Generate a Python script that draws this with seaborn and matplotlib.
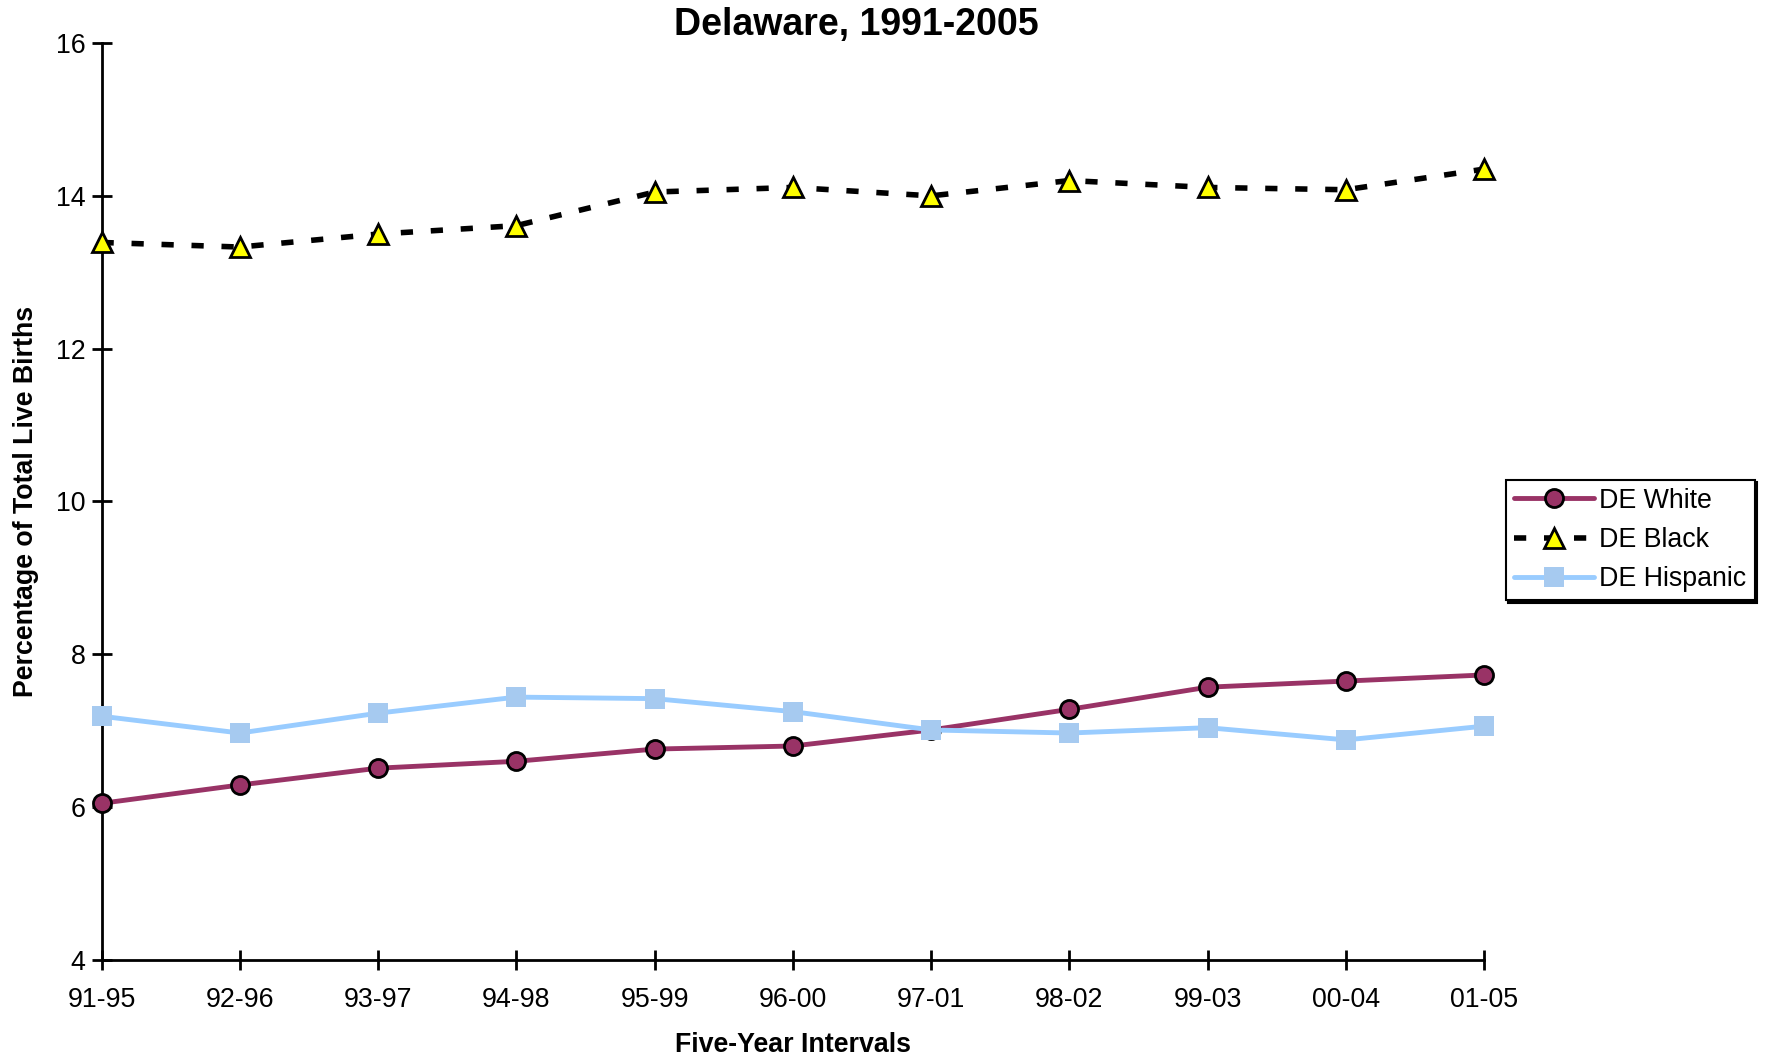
import matplotlib
matplotlib.use("Agg")
import matplotlib.pyplot as plt
import seaborn as sns

sns.set_style("white")
plt.rcParams['font.family'] = ['Liberation Sans', 'DejaVu Sans']
plt.rcParams['text.color'] = 'black'
plt.rcParams['axes.labelcolor'] = 'black'

# data
intervals = ['91-95', '92-96', '93-97', '94-98', '95-99', '96-00',
             '97-01', '98-02', '99-03', '00-04', '01-05']
de_white = [6.05, 6.29, 6.51, 6.60, 6.76, 6.80, 7.01, 7.28, 7.57, 7.65, 7.73]
de_black = [13.39, 13.33, 13.50, 13.61, 14.05, 14.11, 14.00, 14.20, 14.11, 14.08, 14.35]
de_hispanic = [7.19, 6.97, 7.23, 7.44, 7.42, 7.25, 7.01, 6.97, 7.04, 6.88, 7.06]

fig = plt.figure(figsize=(17.69, 10.57), dpi=100)
ax = fig.add_axes([0.0574, 0.0918, 0.7816, 0.8675])

sns.lineplot(x=intervals, y=de_white, ax=ax, color='#993366', linewidth=3.5,
             marker='o', markersize=13, markerfacecolor='#993366',
             markeredgecolor='black', markeredgewidth=2, label='DE White',
             clip_on=False, zorder=3)
sns.lineplot(x=intervals, y=de_black, ax=ax, color='black', linewidth=4,
             linestyle=(0, (2.2, 3.2)), marker='^', markersize=14,
             markerfacecolor='#FFFF00', markeredgecolor='black',
             markeredgewidth=2, label='DE Black', clip_on=False, zorder=3)
sns.lineplot(x=intervals, y=de_hispanic, ax=ax, color='#99CCFF', linewidth=3.5,
             marker='s', markersize=14, markerfacecolor='#A6CAF0',
             markeredgewidth=0, label='DE Hispanic', clip_on=False, zorder=3)

ax.set_xlim(0, len(intervals) - 1)
ax.set_ylim(4, 16)
ax.set_yticks(range(4, 17, 2))
ax.tick_params(axis='both', which='major', bottom=True, left=True,
               direction='inout', length=15, width=2, labelsize=19.3,
               color='black', labelcolor='black')
ax.tick_params(axis='x', pad=12)
ax.tick_params(axis='y', pad=4)
for s in ['top', 'right']:
    ax.spines[s].set_visible(False)
for s in ['left', 'bottom']:
    ax.spines[s].set_linewidth(2)
    ax.spines[s].set_color('black')

# title sits a bit right of the axes centre in the original
fig.text(0.484, 0.976, 'Delaware, 1991-2005', fontsize=27, fontweight='bold',
         ha='center', va='center')
ax.set_xlabel('Five-Year Intervals', fontsize=19.3, fontweight='bold', labelpad=14)
ax.set_ylabel('Percentage of Total Live Births', fontsize=19.3, fontweight='bold', labelpad=12)

leg = ax.legend(loc='center left', bbox_to_anchor=(1.0155, 0.458), fontsize=19.3,
                frameon=True, fancybox=False, edgecolor='black',
                shadow={'color': 'black', 'alpha': 1}, handlelength=3.0,
                borderpad=0.3, labelspacing=0.5, handletextpad=0.2,
                borderaxespad=0)
leg.get_frame().set_linewidth(1.5)

fig.savefig('out.png', dpi=100)
